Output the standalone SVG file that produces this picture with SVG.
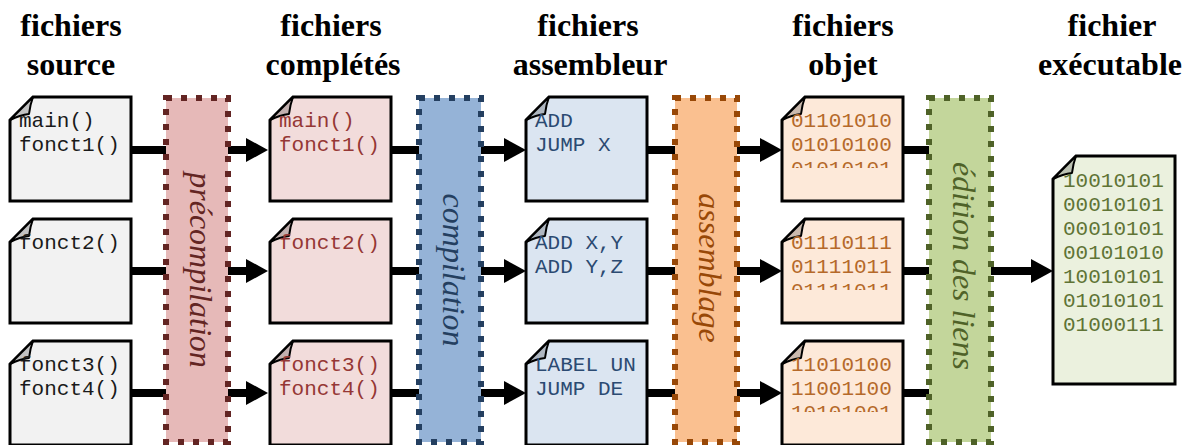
<svg xmlns="http://www.w3.org/2000/svg" xmlns:xlink="http://www.w3.org/1999/xlink" width="1190" height="445" viewBox="0 0 1190 445">
<style>
.hdr{font-family:"Liberation Serif","Times New Roman",serif;font-weight:bold;font-size:32px;fill:#000;text-anchor:middle}
.code{font-family:"Liberation Mono","Courier New",monospace;font-size:21px}
.stage{font-family:"Liberation Serif","Times New Roman",serif;font-style:italic;font-size:32px;text-anchor:middle}
.doc{stroke:#000;stroke-width:3;stroke-linejoin:miter}
.fold{stroke:#000;stroke-width:2;stroke-linejoin:round}
.box{stroke-width:6;stroke-dasharray:6 9}
.conn{stroke:#000;stroke-width:8;fill:none;marker-end:url(#ah)}
.plain{stroke:#000;stroke-width:8;fill:none}
.c1 .doc{fill:#f2f2f2}.c1 .fold{fill:#c2c2c2}.c1 text{fill:#1a1a1a}
.c2 .doc{fill:#f2dcdb}.c2 .fold{fill:#c2b0af}.c2 text{fill:#953735}
.c3 .doc{fill:#dbe5f1}.c3 .fold{fill:#afb7c1}.c3 text{fill:#2b4a72}
.c4 .doc{fill:#fde9d9}.c4 .fold{fill:#cabaae}.c4 text{fill:#b5692a}
.c5 .doc{fill:#ebf1de}.c5 .fold{fill:#bcc1b2}.c5 text{fill:#5f7435}
</style>
<defs>
<marker id="ah" viewBox="0 0 22 24" refX="0" refY="12" markerWidth="22" markerHeight="24" markerUnits="userSpaceOnUse" orient="auto">
<path d="M0,0 L22,12 L0,24 Z" fill="#000"/>
</marker>
<path id="doc" d="M23,0 H121 V104 H0 V23 Z"/>
<path id="fold" d="M0,23 L23,0 Q20,8 19,17 Q10,18 0,23 Z"/>
<clipPath id="clipbin" clipPathUnits="userSpaceOnUse"><rect x="0" y="0" width="121" height="71"/></clipPath>
</defs>

<g id="headers">
<text class="hdr" x="71" y="36">fichiers</text><text class="hdr" x="71" y="75">source</text>
<text class="hdr" x="331" y="36">fichiers</text><text class="hdr" x="333" y="75">complétés</text>
<text class="hdr" x="588" y="36">fichiers</text><text class="hdr" x="590" y="75">assembleur</text>
<text class="hdr" x="843" y="36">fichiers</text><text class="hdr" x="843" y="75">objet</text>
<text class="hdr" x="1112" y="36">fichier</text><text class="hdr" x="1110" y="75">exécutable</text>
</g>

<g id="connectors">
<line class="conn" x1="131" y1="150" x2="246" y2="150"/>
<line class="conn" x1="131" y1="271" x2="246" y2="271"/>
<line class="conn" x1="131" y1="393" x2="246" y2="393"/>
<line class="conn" x1="391" y1="150" x2="504" y2="150"/>
<line class="conn" x1="391" y1="271" x2="504" y2="271"/>
<line class="conn" x1="391" y1="393" x2="504" y2="393"/>
<line class="conn" x1="647" y1="150" x2="760" y2="150"/>
<line class="conn" x1="647" y1="271" x2="760" y2="271"/>
<line class="conn" x1="647" y1="393" x2="760" y2="393"/>
<line class="plain" x1="903" y1="150" x2="945" y2="150"/>
<line class="plain" x1="903" y1="271" x2="945" y2="271"/>
<line class="plain" x1="903" y1="393" x2="945" y2="393"/>
<line class="conn" x1="975" y1="271" x2="1031" y2="271"/>
</g>

<g id="stage-precompilation">
<rect class="box" x="166" y="98" width="62" height="344" fill="#e6b9b8" stroke="#632523"/>
<text class="stage" fill="#632523" transform="translate(190,270) rotate(90)">précompilation</text>
</g>
<g id="stage-compilation">
<rect class="box" x="419" y="98" width="62" height="344" fill="#95b3d7" stroke="#243f60"/>
<text class="stage" fill="#243f60" transform="translate(443,270) rotate(90)">compilation</text>
</g>
<g id="stage-assemblage">
<rect class="box" x="675" y="98" width="62" height="344" fill="#fac090" stroke="#984807"/>
<text class="stage" fill="#984807" transform="translate(699,268) rotate(90)">assemblage</text>
</g>
<g id="stage-edition">
<rect class="box" x="929" y="98" width="62" height="344" fill="#c3d69b" stroke="#4f6228"/>
<text class="stage" fill="#4f6228" transform="translate(953,266) rotate(90)">édition des liens</text>
</g>

<g id="src1" class="c1" transform="translate(10,97)">
<use href="#doc" class="doc"/><use href="#fold" class="fold"/>
<text class="code" x="9" y="30">main()</text><text class="code" x="9" y="54">fonct1()</text>
</g>
<g id="src2" class="c1" transform="translate(10,219)">
<use href="#doc" class="doc"/><use href="#fold" class="fold"/>
<text class="code" x="9" y="30">fonct2()</text>
</g>
<g id="src3" class="c1" transform="translate(10,341)">
<use href="#doc" class="doc"/><use href="#fold" class="fold"/>
<text class="code" x="9" y="30">fonct3()</text><text class="code" x="9" y="54">fonct4()</text>
</g>

<g id="cpl1" class="c2" transform="translate(270,97)">
<use href="#doc" class="doc"/><use href="#fold" class="fold"/>
<text class="code" x="9" y="30">main()</text><text class="code" x="9" y="54">fonct1()</text>
</g>
<g id="cpl2" class="c2" transform="translate(270,219)">
<use href="#doc" class="doc"/><use href="#fold" class="fold"/>
<text class="code" x="9" y="30">fonct2()</text>
</g>
<g id="cpl3" class="c2" transform="translate(270,341)">
<use href="#doc" class="doc"/><use href="#fold" class="fold"/>
<text class="code" x="9" y="30">fonct3()</text><text class="code" x="9" y="54">fonct4()</text>
</g>

<g id="asm1" class="c3" transform="translate(526,97)">
<use href="#doc" class="doc"/><use href="#fold" class="fold"/>
<text class="code" x="9" y="30">ADD</text><text class="code" x="9" y="54">JUMP X</text>
</g>
<g id="asm2" class="c3" transform="translate(526,219)">
<use href="#doc" class="doc"/><use href="#fold" class="fold"/>
<text class="code" x="9" y="30">ADD X,Y</text><text class="code" x="9" y="54">ADD Y,Z</text>
</g>
<g id="asm3" class="c3" transform="translate(526,341)">
<use href="#doc" class="doc"/><use href="#fold" class="fold"/>
<text class="code" x="9" y="30">LABEL UN</text><text class="code" x="9" y="54">JUMP DE</text>
</g>

<g id="obj1" class="c4" transform="translate(782,97)">
<use href="#doc" class="doc"/><use href="#fold" class="fold"/>
<g clip-path="url(#clipbin)"><text class="code" x="9" y="30">01101010</text><text class="code" x="9" y="54">01010100</text><text class="code" x="9" y="78">01010101</text></g>
</g>
<g id="obj2" class="c4" transform="translate(782,219)">
<use href="#doc" class="doc"/><use href="#fold" class="fold"/>
<g clip-path="url(#clipbin)"><text class="code" x="9" y="30">01110111</text><text class="code" x="9" y="54">01111011</text><text class="code" x="9" y="78">01111011</text></g>
</g>
<g id="obj3" class="c4" transform="translate(782,341)">
<use href="#doc" class="doc"/><use href="#fold" class="fold"/>
<g clip-path="url(#clipbin)"><text class="code" x="9" y="30">11010100</text><text class="code" x="9" y="54">11001100</text><text class="code" x="9" y="78">10101001</text></g>
</g>

<g id="exe" class="c5" transform="translate(1053,156)">
<path class="doc" d="M23,0 H122 V228 H0 V23 Z"/><use href="#fold" class="fold"/>
<text class="code" x="10" y="31">10010101</text>
<text class="code" x="10" y="55">00010101</text>
<text class="code" x="10" y="79">00010101</text>
<text class="code" x="10" y="103">00101010</text>
<text class="code" x="10" y="127">10010101</text>
<text class="code" x="10" y="151">01010101</text>
<text class="code" x="10" y="175">01000111</text>
</g>
</svg>
